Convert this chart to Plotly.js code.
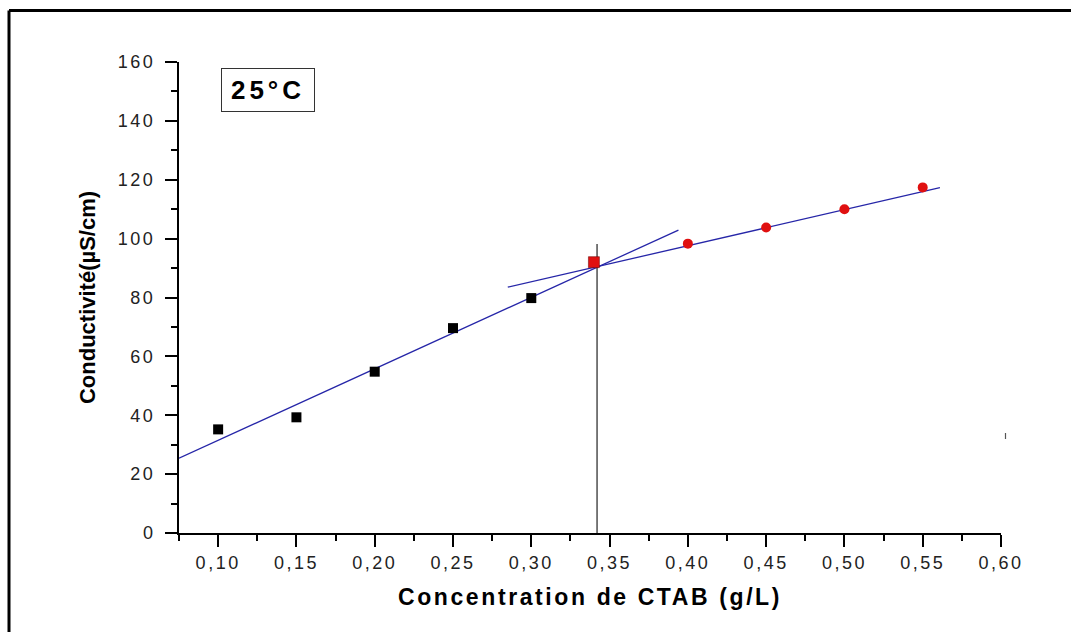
<!DOCTYPE html>
<html>
<head>
<meta charset="utf-8">
<script src="https://cdn.plot.ly/plotly-3.0.1.min.js"></script>
<style>
html,body{margin:0;padding:0;background:#fff;}
#chart{width:1071px;height:632px;}
</style>
</head>
<body>
<div id="chart"></div>
<script>
// ---- data ----
const preX = [0.10, 0.15, 0.20, 0.25, 0.30];
const preY = [35.2, 39.3, 54.8, 69.6, 79.8];
const cmcX = [0.34];
const cmcY = [92.0];
const postX = [0.40, 0.45, 0.50, 0.55];
const postY = [98.3, 103.8, 110.0, 117.4];
const fit1X = [0.075, 0.394];
const fit1Y = [25.4, 102.9];
const fit2X = [0.285, 0.561];
const fit2Y = [83.5, 117.3];
const cmcLineX = [0.342, 0.342];
const cmcLineY = [0, 98.2];
const xTickVals = [0.10, 0.15, 0.20, 0.25, 0.30, 0.35, 0.40, 0.45, 0.50, 0.55, 0.60];
const xTickLabels = ['0,10','0,15','0,20','0,25','0,30','0,35','0,40','0,45','0,50','0,55','0,60'];
const yTickVals = [0, 20, 40, 60, 80, 100, 120, 140, 160];
const yTickLabels = ['0','20','40','60','80','100','120','140','160'];
const xTitle = 'Concentration de CTAB (g/L)';
const yTitle = 'Conductivité(µS/cm)';
const tempLabel = '25°C';

// ---- layout helpers ----
const W = 1071, H = 632;
const M = {l: 179, r: 70, t: 62, b: 99};
const PW = W - M.l - M.r, PH = H - M.t - M.b;
const px = v => (v - M.l) / PW;          // pixel x -> paper
const py = v => (H - M.b - v) / PH;      // pixel y -> paper
const sp = (s, n) => `<span style="letter-spacing:${n}px">${s}</span>`;
const FONT = 'Liberation Sans, Arial, sans-serif';

const traces = [
  {x: fit1X, y: fit1Y, mode: 'lines', line: {color: '#2626a8', width: 1.3}, hoverinfo: 'skip'},
  {x: fit2X, y: fit2Y, mode: 'lines', line: {color: '#2626a8', width: 1.3}, hoverinfo: 'skip'},
  {x: cmcLineX, y: cmcLineY, mode: 'lines', line: {color: '#333', width: 1.3}, hoverinfo: 'skip'},
  {x: preX, y: preY, mode: 'markers', marker: {symbol: 'square', size: 10, color: '#000'}, cliponaxis: false},
  {x: cmcX, y: cmcY, mode: 'markers', marker: {symbol: 'square', size: 11, color: '#e01010', line: {color: '#600', width: 0.5}}, cliponaxis: false},
  {x: postX, y: postY, mode: 'markers', marker: {symbol: 'circle', size: 10, color: '#e01010'}, cliponaxis: false}
];

const layout = {
  width: W, height: H,
  margin: M,
  showlegend: false,
  paper_bgcolor: '#fff', plot_bgcolor: '#fff',
  font: {family: FONT, color: '#000'},
  xaxis: {
    range: [0.075, 0.60],
    showline: true, linewidth: 2, linecolor: '#000',
    ticks: 'outside', ticklen: 12, tickwidth: 2, tickcolor: '#000',
    tickmode: 'array', tickvals: xTickVals, ticktext: xTickLabels.map(s => sp(s, 2.5)),
    minor: {ticks: 'outside', ticklen: 6, tickwidth: 2, tickcolor: '#000', tick0: 0.075, dtick: 0.025, showgrid: false},
    showgrid: false, zeroline: false,
    tickfont: {family: FONT, size: 18, color: '#222'},
    title: {text: sp(xTitle, 2.6), font: {family: FONT, size: 23, weight: 'bold', color: '#000'}, standoff: 17}
  },
  yaxis: {
    range: [0, 160],
    showline: true, linewidth: 2, linecolor: '#000',
    ticks: 'outside', ticklen: 12, tickwidth: 2, tickcolor: '#000',
    tickmode: 'array', tickvals: yTickVals, ticktext: yTickLabels.map(s => sp(s, 2.5)),
    minor: {ticks: 'outside', ticklen: 6, tickwidth: 2, tickcolor: '#000', tick0: 0, dtick: 10, showgrid: false},
    showgrid: false, zeroline: false,
    ticklabelstandoff: 6,
    tickfont: {family: FONT, size: 18, color: '#222'},
    title: {text: yTitle, font: {family: FONT, size: 22, weight: 'bold', color: '#000'}, standoff: 16}
  },
  shapes: [
    {type: 'line', xref: 'paper', yref: 'paper', x0: px(9), x1: px(W + 5), y0: py(10.5), y1: py(10.5), line: {color: '#000', width: 3}},
    {type: 'line', xref: 'paper', yref: 'paper', x0: px(9), x1: px(9), y0: py(10.5), y1: py(H + 5), line: {color: '#000', width: 3}},
    {type: 'line', xref: 'paper', yref: 'paper', x0: px(1005.5), x1: px(1005.5), y0: py(433), y1: py(439), line: {color: '#555', width: 1.2}}
  ],
  annotations: [
    {xref: 'paper', yref: 'paper', x: px(268), y: py(90), xanchor: 'center', yanchor: 'middle',
     text: sp(tempLabel, 4), showarrow: false, width: 92, height: 42,
     font: {family: FONT, size: 26, weight: 'bold', color: '#000'},
     bordercolor: '#333', borderwidth: 1, borderpad: 0, bgcolor: '#fff'}
  ]
};

Plotly.newPlot('chart', traces, layout, {displayModeBar: false, staticPlot: true});
</script>
</body>
</html>
